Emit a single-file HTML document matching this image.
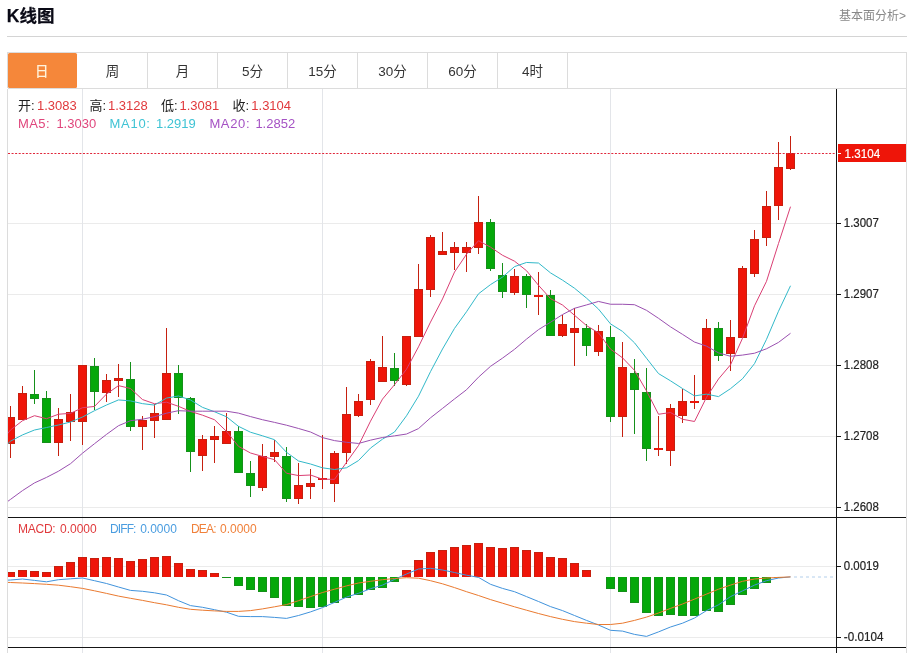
<!DOCTYPE html>
<html lang="zh"><head><meta charset="utf-8"><title>K线图</title>
<style>
html,body{margin:0;padding:0;background:#fff;}
body{width:913px;height:653px;position:relative;overflow:hidden;font-family:"Liberation Sans","Noto Sans CJK SC",sans-serif;color:#222;}
.t{position:absolute;white-space:nowrap;line-height:1;}
#title{left:6.8px;top:8px;font-size:17.5px;font-weight:bold;color:#0a0a16;-webkit-text-stroke:0.25px #0a0a16;}
#more{right:7px;top:10px;font-size:12px;color:#888;}
#hr{position:absolute;left:7px;top:36px;width:900px;height:1px;background:#d4d4d4;}
#tabs{position:absolute;left:7px;top:52px;width:900px;height:36px;border-top:1px solid #dcdcdc;border-left:1px solid #dcdcdc;border-right:1px solid #dcdcdc;box-sizing:border-box;}
.tab{position:absolute;top:0;height:36px;width:70px;box-sizing:border-box;border-right:1px solid #dcdcdc;text-align:center;font-size:13.5px;line-height:37px;color:#333;}
.tab.on{background:#f5873a;color:#fff3dc;border-right:none;border-radius:1.5px;top:0px;height:35px;width:69px;font-weight:500;text-indent:-1.5px;}
.lg{font-size:13px;}
.r{color:#e0393c}
</style></head><body>
<div id="title" class="t">K线图</div>
<div id="more" class="t">基本面分析&gt;</div>
<div id="hr"></div>
<div id="tabs">
<div class="tab on" style="left:0">日</div>
<div class="tab" style="left:70px">周</div>
<div class="tab" style="left:140px">月</div>
<div class="tab" style="left:210px">5分</div>
<div class="tab" style="left:280px">15分</div>
<div class="tab" style="left:350px">30分</div>
<div class="tab" style="left:420px">60分</div>
<div class="tab" style="left:490px">4时</div>
</div>
<svg width="913" height="653" viewBox="0 0 913 653" style="position:absolute;left:0;top:0">
<defs><clipPath id="cp"><rect x="8" y="89" width="829" height="560"/></clipPath></defs>
<g fill="none" stroke="#dcdcdc" stroke-width="1" shape-rendering="crispEdges">
<line x1="7.5" y1="88.5" x2="906.5" y2="88.5"/>
<line x1="7.5" y1="88.5" x2="7.5" y2="653"/>
<line x1="906.5" y1="88.5" x2="906.5" y2="653"/>
</g>
<g fill="none" stroke="#ebebeb" stroke-width="1" shape-rendering="crispEdges">
<line x1="8" y1="223.5" x2="836" y2="223.5"/>
<line x1="8" y1="294.5" x2="836" y2="294.5"/>
<line x1="8" y1="365.5" x2="836" y2="365.5"/>
<line x1="8" y1="436.5" x2="836" y2="436.5"/>
<line x1="8" y1="507.5" x2="836" y2="507.5"/>
<line x1="8" y1="566.5" x2="836" y2="566.5"/>
<line x1="8" y1="637.5" x2="836" y2="637.5"/>
<line x1="82.5" y1="89" x2="82.5" y2="653" stroke="#e3e5e9"/>
<line x1="322.5" y1="89" x2="322.5" y2="653" stroke="#e3e5e9"/>
<line x1="610.5" y1="89" x2="610.5" y2="653" stroke="#e3e5e9"/>
</g>
<g clip-path="url(#cp)">
<g shape-rendering="crispEdges">
<rect x="10" y="406" width="1" height="52" fill="#c6200f"/>
<rect x="6" y="417" width="9" height="27" fill="#c6200f"/>
<rect x="7" y="418" width="7" height="25" fill="#ef1509"/>
<rect x="22" y="386" width="1" height="34" fill="#c6200f"/>
<rect x="18" y="393" width="9" height="27" fill="#c6200f"/>
<rect x="19" y="394" width="7" height="25" fill="#ef1509"/>
<rect x="34" y="370" width="1" height="34" fill="#15901a"/>
<rect x="30" y="394" width="9" height="5" fill="#15901a"/>
<rect x="31" y="395" width="7" height="3" fill="#05a80a"/>
<rect x="46" y="391" width="1" height="52" fill="#15901a"/>
<rect x="42" y="398" width="9" height="45" fill="#15901a"/>
<rect x="43" y="399" width="7" height="43" fill="#05a80a"/>
<rect x="58" y="408" width="1" height="48" fill="#c6200f"/>
<rect x="54" y="419" width="9" height="24" fill="#c6200f"/>
<rect x="55" y="420" width="7" height="22" fill="#ef1509"/>
<rect x="70" y="394" width="1" height="47" fill="#c6200f"/>
<rect x="66" y="412" width="9" height="10" fill="#c6200f"/>
<rect x="67" y="413" width="7" height="8" fill="#ef1509"/>
<rect x="82" y="365" width="1" height="80" fill="#c6200f"/>
<rect x="78" y="365" width="9" height="57" fill="#c6200f"/>
<rect x="79" y="366" width="7" height="55" fill="#ef1509"/>
<rect x="94" y="358" width="1" height="52" fill="#15901a"/>
<rect x="90" y="366" width="9" height="26" fill="#15901a"/>
<rect x="91" y="367" width="7" height="24" fill="#05a80a"/>
<rect x="106" y="374" width="1" height="28" fill="#c6200f"/>
<rect x="102" y="380" width="9" height="13" fill="#c6200f"/>
<rect x="103" y="381" width="7" height="11" fill="#ef1509"/>
<rect x="118" y="364" width="1" height="33" fill="#c6200f"/>
<rect x="114" y="378" width="9" height="3" fill="#c6200f"/>
<rect x="115" y="379" width="7" height="1" fill="#ef1509"/>
<rect x="130" y="362" width="1" height="69" fill="#15901a"/>
<rect x="126" y="379" width="9" height="48" fill="#15901a"/>
<rect x="127" y="380" width="7" height="46" fill="#05a80a"/>
<rect x="142" y="416" width="1" height="34" fill="#c6200f"/>
<rect x="138" y="420" width="9" height="7" fill="#c6200f"/>
<rect x="139" y="421" width="7" height="5" fill="#ef1509"/>
<rect x="154" y="404" width="1" height="34" fill="#c6200f"/>
<rect x="150" y="413" width="9" height="8" fill="#c6200f"/>
<rect x="151" y="414" width="7" height="6" fill="#ef1509"/>
<rect x="166" y="328" width="1" height="92" fill="#c6200f"/>
<rect x="162" y="373" width="9" height="47" fill="#c6200f"/>
<rect x="163" y="374" width="7" height="45" fill="#ef1509"/>
<rect x="178" y="365" width="1" height="49" fill="#15901a"/>
<rect x="174" y="373" width="9" height="25" fill="#15901a"/>
<rect x="175" y="374" width="7" height="23" fill="#05a80a"/>
<rect x="190" y="397" width="1" height="75" fill="#15901a"/>
<rect x="186" y="398" width="9" height="54" fill="#15901a"/>
<rect x="187" y="399" width="7" height="52" fill="#05a80a"/>
<rect x="202" y="435" width="1" height="36" fill="#c6200f"/>
<rect x="198" y="439" width="9" height="17" fill="#c6200f"/>
<rect x="199" y="440" width="7" height="15" fill="#ef1509"/>
<rect x="214" y="426" width="1" height="37" fill="#c6200f"/>
<rect x="210" y="436" width="9" height="4" fill="#c6200f"/>
<rect x="211" y="437" width="7" height="2" fill="#ef1509"/>
<rect x="226" y="413" width="1" height="31" fill="#c6200f"/>
<rect x="222" y="431" width="9" height="13" fill="#c6200f"/>
<rect x="223" y="432" width="7" height="11" fill="#ef1509"/>
<rect x="238" y="426" width="1" height="47" fill="#15901a"/>
<rect x="234" y="431" width="9" height="42" fill="#15901a"/>
<rect x="235" y="432" width="7" height="40" fill="#05a80a"/>
<rect x="250" y="461" width="1" height="36" fill="#15901a"/>
<rect x="246" y="473" width="9" height="13" fill="#15901a"/>
<rect x="247" y="474" width="7" height="11" fill="#05a80a"/>
<rect x="262" y="444" width="1" height="47" fill="#c6200f"/>
<rect x="258" y="456" width="9" height="32" fill="#c6200f"/>
<rect x="259" y="457" width="7" height="30" fill="#ef1509"/>
<rect x="274" y="440" width="1" height="22" fill="#c6200f"/>
<rect x="270" y="452" width="9" height="5" fill="#c6200f"/>
<rect x="271" y="453" width="7" height="3" fill="#ef1509"/>
<rect x="286" y="447" width="1" height="55" fill="#15901a"/>
<rect x="282" y="456" width="9" height="43" fill="#15901a"/>
<rect x="283" y="457" width="7" height="41" fill="#05a80a"/>
<rect x="298" y="463" width="1" height="41" fill="#c6200f"/>
<rect x="294" y="485" width="9" height="14" fill="#c6200f"/>
<rect x="295" y="486" width="7" height="12" fill="#ef1509"/>
<rect x="310" y="469" width="1" height="30" fill="#c6200f"/>
<rect x="306" y="483" width="9" height="4" fill="#c6200f"/>
<rect x="307" y="484" width="7" height="2" fill="#ef1509"/>
<rect x="322" y="435" width="1" height="54" fill="#c6200f"/>
<rect x="318" y="478" width="9" height="2" fill="#c6200f"/>
<rect x="319" y="478" width="7" height="2" fill="#ef1509"/>
<rect x="334" y="451" width="1" height="51" fill="#c6200f"/>
<rect x="330" y="453" width="9" height="31" fill="#c6200f"/>
<rect x="331" y="454" width="7" height="29" fill="#ef1509"/>
<rect x="346" y="387" width="1" height="77" fill="#c6200f"/>
<rect x="342" y="414" width="9" height="39" fill="#c6200f"/>
<rect x="343" y="415" width="7" height="37" fill="#ef1509"/>
<rect x="358" y="394" width="1" height="23" fill="#c6200f"/>
<rect x="354" y="401" width="9" height="15" fill="#c6200f"/>
<rect x="355" y="402" width="7" height="13" fill="#ef1509"/>
<rect x="370" y="359" width="1" height="46" fill="#c6200f"/>
<rect x="366" y="361" width="9" height="39" fill="#c6200f"/>
<rect x="367" y="362" width="7" height="37" fill="#ef1509"/>
<rect x="382" y="336" width="1" height="46" fill="#c6200f"/>
<rect x="378" y="367" width="9" height="15" fill="#c6200f"/>
<rect x="379" y="368" width="7" height="13" fill="#ef1509"/>
<rect x="394" y="353" width="1" height="33" fill="#15901a"/>
<rect x="390" y="368" width="9" height="13" fill="#15901a"/>
<rect x="391" y="369" width="7" height="11" fill="#05a80a"/>
<rect x="406" y="336" width="1" height="50" fill="#c6200f"/>
<rect x="402" y="336" width="9" height="49" fill="#c6200f"/>
<rect x="403" y="337" width="7" height="47" fill="#ef1509"/>
<rect x="418" y="264" width="1" height="73" fill="#c6200f"/>
<rect x="414" y="289" width="9" height="48" fill="#c6200f"/>
<rect x="415" y="290" width="7" height="46" fill="#ef1509"/>
<rect x="430" y="235" width="1" height="62" fill="#c6200f"/>
<rect x="426" y="237" width="9" height="53" fill="#c6200f"/>
<rect x="427" y="238" width="7" height="51" fill="#ef1509"/>
<rect x="442" y="232" width="1" height="23" fill="#c6200f"/>
<rect x="438" y="251" width="9" height="4" fill="#c6200f"/>
<rect x="439" y="252" width="7" height="2" fill="#ef1509"/>
<rect x="454" y="242" width="1" height="28" fill="#c6200f"/>
<rect x="450" y="247" width="9" height="6" fill="#c6200f"/>
<rect x="451" y="248" width="7" height="4" fill="#ef1509"/>
<rect x="466" y="242" width="1" height="30" fill="#c6200f"/>
<rect x="462" y="247" width="9" height="6" fill="#c6200f"/>
<rect x="463" y="248" width="7" height="4" fill="#ef1509"/>
<rect x="478" y="196" width="1" height="58" fill="#c6200f"/>
<rect x="474" y="222" width="9" height="26" fill="#c6200f"/>
<rect x="475" y="223" width="7" height="24" fill="#ef1509"/>
<rect x="490" y="219" width="1" height="52" fill="#15901a"/>
<rect x="486" y="222" width="9" height="47" fill="#15901a"/>
<rect x="487" y="223" width="7" height="45" fill="#05a80a"/>
<rect x="502" y="263" width="1" height="35" fill="#15901a"/>
<rect x="498" y="275" width="9" height="17" fill="#15901a"/>
<rect x="499" y="276" width="7" height="15" fill="#05a80a"/>
<rect x="514" y="269" width="1" height="26" fill="#c6200f"/>
<rect x="510" y="276" width="9" height="17" fill="#c6200f"/>
<rect x="511" y="277" width="7" height="15" fill="#ef1509"/>
<rect x="526" y="274" width="1" height="34" fill="#15901a"/>
<rect x="522" y="276" width="9" height="19" fill="#15901a"/>
<rect x="523" y="277" width="7" height="17" fill="#05a80a"/>
<rect x="538" y="272" width="1" height="43" fill="#c6200f"/>
<rect x="534" y="295" width="9" height="2" fill="#c6200f"/>
<rect x="535" y="295" width="7" height="2" fill="#ef1509"/>
<rect x="550" y="290" width="1" height="46" fill="#15901a"/>
<rect x="546" y="295" width="9" height="41" fill="#15901a"/>
<rect x="547" y="296" width="7" height="39" fill="#05a80a"/>
<rect x="562" y="315" width="1" height="22" fill="#c6200f"/>
<rect x="558" y="324" width="9" height="12" fill="#c6200f"/>
<rect x="559" y="325" width="7" height="10" fill="#ef1509"/>
<rect x="574" y="308" width="1" height="58" fill="#c6200f"/>
<rect x="570" y="328" width="9" height="5" fill="#c6200f"/>
<rect x="571" y="329" width="7" height="3" fill="#ef1509"/>
<rect x="586" y="324" width="1" height="32" fill="#15901a"/>
<rect x="582" y="328" width="9" height="18" fill="#15901a"/>
<rect x="583" y="329" width="7" height="16" fill="#05a80a"/>
<rect x="598" y="325" width="1" height="31" fill="#c6200f"/>
<rect x="594" y="331" width="9" height="21" fill="#c6200f"/>
<rect x="595" y="332" width="7" height="19" fill="#ef1509"/>
<rect x="610" y="326" width="1" height="96" fill="#15901a"/>
<rect x="606" y="337" width="9" height="80" fill="#15901a"/>
<rect x="607" y="338" width="7" height="78" fill="#05a80a"/>
<rect x="622" y="342" width="1" height="95" fill="#c6200f"/>
<rect x="618" y="367" width="9" height="50" fill="#c6200f"/>
<rect x="619" y="368" width="7" height="48" fill="#ef1509"/>
<rect x="634" y="359" width="1" height="75" fill="#15901a"/>
<rect x="630" y="373" width="9" height="17" fill="#15901a"/>
<rect x="631" y="374" width="7" height="15" fill="#05a80a"/>
<rect x="646" y="368" width="1" height="93" fill="#15901a"/>
<rect x="642" y="392" width="9" height="57" fill="#15901a"/>
<rect x="643" y="393" width="7" height="55" fill="#05a80a"/>
<rect x="658" y="416" width="1" height="40" fill="#c6200f"/>
<rect x="654" y="448" width="9" height="2" fill="#c6200f"/>
<rect x="655" y="448" width="7" height="2" fill="#ef1509"/>
<rect x="670" y="404" width="1" height="62" fill="#c6200f"/>
<rect x="666" y="408" width="9" height="43" fill="#c6200f"/>
<rect x="667" y="409" width="7" height="41" fill="#ef1509"/>
<rect x="682" y="389" width="1" height="34" fill="#c6200f"/>
<rect x="678" y="401" width="9" height="15" fill="#c6200f"/>
<rect x="679" y="402" width="7" height="13" fill="#ef1509"/>
<rect x="694" y="375" width="1" height="34" fill="#c6200f"/>
<rect x="690" y="401" width="9" height="2" fill="#c6200f"/>
<rect x="691" y="401" width="7" height="2" fill="#ef1509"/>
<rect x="706" y="319" width="1" height="81" fill="#c6200f"/>
<rect x="702" y="328" width="9" height="72" fill="#c6200f"/>
<rect x="703" y="329" width="7" height="70" fill="#ef1509"/>
<rect x="718" y="322" width="1" height="39" fill="#15901a"/>
<rect x="714" y="328" width="9" height="28" fill="#15901a"/>
<rect x="715" y="329" width="7" height="26" fill="#05a80a"/>
<rect x="730" y="320" width="1" height="51" fill="#c6200f"/>
<rect x="726" y="337" width="9" height="17" fill="#c6200f"/>
<rect x="727" y="338" width="7" height="15" fill="#ef1509"/>
<rect x="742" y="266" width="1" height="72" fill="#c6200f"/>
<rect x="738" y="268" width="9" height="70" fill="#c6200f"/>
<rect x="739" y="269" width="7" height="68" fill="#ef1509"/>
<rect x="754" y="230" width="1" height="47" fill="#c6200f"/>
<rect x="750" y="239" width="9" height="35" fill="#c6200f"/>
<rect x="751" y="240" width="7" height="33" fill="#ef1509"/>
<rect x="766" y="191" width="1" height="55" fill="#c6200f"/>
<rect x="762" y="206" width="9" height="32" fill="#c6200f"/>
<rect x="763" y="207" width="7" height="30" fill="#ef1509"/>
<rect x="778" y="142" width="1" height="78" fill="#c6200f"/>
<rect x="774" y="167" width="9" height="39" fill="#c6200f"/>
<rect x="775" y="168" width="7" height="37" fill="#ef1509"/>
<rect x="790" y="136" width="1" height="34" fill="#c6200f"/>
<rect x="786" y="153" width="9" height="16" fill="#c6200f"/>
<rect x="787" y="154" width="7" height="14" fill="#ef1509"/>
</g>
<polyline fill="none" stroke="#da3f74" stroke-width="1.0" stroke-linejoin="round" points="-1.5,445 10.5,430 22.5,420.7 34.5,415.7 46.5,418.7 58.5,414.22 70.5,413.34 82.5,407.72 94.5,406.44 106.5,394.02 118.5,385.64 130.5,388.5 142.5,399.56 154.5,403.74 166.5,402.16 178.5,406.34 190.5,411.44 202.5,415.18 214.5,419.74 226.5,431.38 238.5,446.36 250.5,453 262.5,456.44 274.5,459.66 286.5,473.22 298.5,475.58 310.5,475 322.5,479.22 334.5,479.34 346.5,462.34 358.5,445.56 370.5,421.18 382.5,399.1 394.5,384.72 406.5,369.24 418.5,346.82 430.5,322.1 442.5,298.94 454.5,272.08 466.5,254.24 478.5,240.76 490.5,247.12 502.5,255.26 514.5,261.16 526.5,270.68 538.5,285.3 550.5,298.62 562.5,305 574.5,315.28 586.5,325.56 598.5,332.88 610.5,349.12 622.5,357.82 634.5,370.32 646.5,390.88 658.5,414.26 670.5,412.52 682.5,419.28 694.5,421.48 706.5,397.34 718.5,378.98 730.5,364.84 742.5,338.24 754.5,305.8 766.5,281.3 778.5,243.48 790.5,206.68"/>
<polyline fill="none" stroke="#32b9c9" stroke-width="1.0" stroke-linejoin="round" points="-1.5,453 10.5,441.2 22.5,434.9 34.5,430 46.5,427.5 58.5,425 70.5,422 82.5,417 94.5,410.7 106.5,405 118.5,399.93 130.5,400.92 142.5,403.64 154.5,405.09 166.5,398.09 178.5,395.99 190.5,399.97 202.5,407.37 214.5,411.74 226.5,416.77 238.5,426.35 250.5,432.22 262.5,435.81 274.5,439.7 286.5,452.3 298.5,460.97 310.5,464 322.5,467.83 334.5,469.5 346.5,467.78 358.5,460.57 370.5,448.09 382.5,439.16 394.5,432.03 406.5,415.79 418.5,396.19 430.5,371.64 442.5,349.02 454.5,328.4 466.5,311.74 478.5,293.79 490.5,284.61 502.5,277.1 514.5,266.62 526.5,262.46 538.5,263.03 550.5,272.87 562.5,280.13 574.5,288.22 586.5,298.12 598.5,309.09 610.5,323.87 622.5,331.41 634.5,342.8 646.5,358.22 658.5,373.57 670.5,380.82 682.5,388.55 694.5,395.9 706.5,394.11 718.5,396.62 730.5,388.68 742.5,378.76 754.5,363.64 766.5,339.32 778.5,311.23 790.5,285.76"/>
<polyline fill="none" stroke="#9a50b0" stroke-width="1.0" stroke-linejoin="round" points="-1.5,508 10.5,499.4 22.5,490.6 34.5,482.9 46.5,477.4 58.5,471.2 70.5,463.7 82.5,453.2 94.5,443.7 106.5,434.4 118.5,425.7 130.5,420.7 142.5,419.2 154.5,416.7 166.5,413.2 178.5,410.7 190.5,411.2 202.5,411.2 214.5,411.2 226.5,411.2 238.5,413.14 250.5,416.57 262.5,419.73 274.5,422.39 286.5,425.19 298.5,428.48 310.5,431.99 322.5,437.6 334.5,440.62 346.5,442.27 358.5,443.46 370.5,440.16 382.5,437.49 394.5,435.86 406.5,434.04 418.5,428.58 430.5,417.82 442.5,408.43 454.5,398.95 466.5,389.76 478.5,377.18 490.5,366.35 502.5,358.13 514.5,349.32 526.5,339.12 538.5,329.61 550.5,322.25 562.5,314.57 574.5,308.31 586.5,304.93 598.5,301.44 610.5,304.24 622.5,304.25 634.5,304.71 646.5,310.34 658.5,318.3 670.5,326.84 682.5,334.34 694.5,342.06 706.5,346.12 718.5,352.86 730.5,356.27 742.5,355.08 754.5,353.22 766.5,348.77 778.5,342.4 790.5,333.29"/>
<g shape-rendering="crispEdges">
<rect x="6" y="572" width="9" height="5" fill="#c6200f"/>
<rect x="7" y="573" width="7" height="4" fill="#ef1509"/>
<rect x="18" y="570" width="9" height="7" fill="#c6200f"/>
<rect x="19" y="571" width="7" height="6" fill="#ef1509"/>
<rect x="30" y="571" width="9" height="6" fill="#c6200f"/>
<rect x="31" y="572" width="7" height="5" fill="#ef1509"/>
<rect x="42" y="572" width="9" height="5" fill="#c6200f"/>
<rect x="43" y="573" width="7" height="4" fill="#ef1509"/>
<rect x="54" y="566" width="9" height="11" fill="#c6200f"/>
<rect x="55" y="567" width="7" height="10" fill="#ef1509"/>
<rect x="66" y="562" width="9" height="15" fill="#c6200f"/>
<rect x="67" y="563" width="7" height="14" fill="#ef1509"/>
<rect x="78" y="557" width="9" height="20" fill="#c6200f"/>
<rect x="79" y="558" width="7" height="19" fill="#ef1509"/>
<rect x="90" y="558" width="9" height="19" fill="#c6200f"/>
<rect x="91" y="559" width="7" height="18" fill="#ef1509"/>
<rect x="102" y="557" width="9" height="20" fill="#c6200f"/>
<rect x="103" y="558" width="7" height="19" fill="#ef1509"/>
<rect x="114" y="558" width="9" height="19" fill="#c6200f"/>
<rect x="115" y="559" width="7" height="18" fill="#ef1509"/>
<rect x="126" y="561" width="9" height="16" fill="#c6200f"/>
<rect x="127" y="562" width="7" height="15" fill="#ef1509"/>
<rect x="138" y="559" width="9" height="18" fill="#c6200f"/>
<rect x="139" y="560" width="7" height="17" fill="#ef1509"/>
<rect x="150" y="557" width="9" height="20" fill="#c6200f"/>
<rect x="151" y="558" width="7" height="19" fill="#ef1509"/>
<rect x="162" y="556" width="9" height="21" fill="#c6200f"/>
<rect x="163" y="557" width="7" height="20" fill="#ef1509"/>
<rect x="174" y="563" width="9" height="14" fill="#c6200f"/>
<rect x="175" y="564" width="7" height="13" fill="#ef1509"/>
<rect x="186" y="569" width="9" height="8" fill="#c6200f"/>
<rect x="187" y="570" width="7" height="7" fill="#ef1509"/>
<rect x="198" y="570" width="9" height="7" fill="#c6200f"/>
<rect x="199" y="571" width="7" height="6" fill="#ef1509"/>
<rect x="210" y="573" width="9" height="4" fill="#c6200f"/>
<rect x="211" y="574" width="7" height="3" fill="#ef1509"/>
<rect x="222" y="577" width="9" height="1" fill="#15901a"/>
<rect x="234" y="577" width="9" height="9" fill="#15901a"/>
<rect x="235" y="577" width="7" height="8" fill="#05a80a"/>
<rect x="246" y="577" width="9" height="13" fill="#15901a"/>
<rect x="247" y="577" width="7" height="12" fill="#05a80a"/>
<rect x="258" y="577" width="9" height="15" fill="#15901a"/>
<rect x="259" y="577" width="7" height="14" fill="#05a80a"/>
<rect x="270" y="577" width="9" height="21" fill="#15901a"/>
<rect x="271" y="577" width="7" height="20" fill="#05a80a"/>
<rect x="282" y="577" width="9" height="29" fill="#15901a"/>
<rect x="283" y="577" width="7" height="28" fill="#05a80a"/>
<rect x="294" y="577" width="9" height="30" fill="#15901a"/>
<rect x="295" y="577" width="7" height="29" fill="#05a80a"/>
<rect x="306" y="577" width="9" height="31" fill="#15901a"/>
<rect x="307" y="577" width="7" height="30" fill="#05a80a"/>
<rect x="318" y="577" width="9" height="30" fill="#15901a"/>
<rect x="319" y="577" width="7" height="29" fill="#05a80a"/>
<rect x="330" y="577" width="9" height="26" fill="#15901a"/>
<rect x="331" y="577" width="7" height="25" fill="#05a80a"/>
<rect x="342" y="577" width="9" height="21" fill="#15901a"/>
<rect x="343" y="577" width="7" height="20" fill="#05a80a"/>
<rect x="354" y="577" width="9" height="18" fill="#15901a"/>
<rect x="355" y="577" width="7" height="17" fill="#05a80a"/>
<rect x="366" y="577" width="9" height="13" fill="#15901a"/>
<rect x="367" y="577" width="7" height="12" fill="#05a80a"/>
<rect x="378" y="577" width="9" height="11" fill="#15901a"/>
<rect x="379" y="577" width="7" height="10" fill="#05a80a"/>
<rect x="390" y="577" width="9" height="5" fill="#15901a"/>
<rect x="391" y="577" width="7" height="4" fill="#05a80a"/>
<rect x="402" y="570" width="9" height="7" fill="#c6200f"/>
<rect x="403" y="571" width="7" height="6" fill="#ef1509"/>
<rect x="414" y="560" width="9" height="17" fill="#c6200f"/>
<rect x="415" y="561" width="7" height="16" fill="#ef1509"/>
<rect x="426" y="552" width="9" height="25" fill="#c6200f"/>
<rect x="427" y="553" width="7" height="24" fill="#ef1509"/>
<rect x="438" y="550" width="9" height="27" fill="#c6200f"/>
<rect x="439" y="551" width="7" height="26" fill="#ef1509"/>
<rect x="450" y="547" width="9" height="30" fill="#c6200f"/>
<rect x="451" y="548" width="7" height="29" fill="#ef1509"/>
<rect x="462" y="545" width="9" height="32" fill="#c6200f"/>
<rect x="463" y="546" width="7" height="31" fill="#ef1509"/>
<rect x="474" y="543" width="9" height="34" fill="#c6200f"/>
<rect x="475" y="544" width="7" height="33" fill="#ef1509"/>
<rect x="486" y="547" width="9" height="30" fill="#c6200f"/>
<rect x="487" y="548" width="7" height="29" fill="#ef1509"/>
<rect x="498" y="548" width="9" height="29" fill="#c6200f"/>
<rect x="499" y="549" width="7" height="28" fill="#ef1509"/>
<rect x="510" y="547" width="9" height="30" fill="#c6200f"/>
<rect x="511" y="548" width="7" height="29" fill="#ef1509"/>
<rect x="522" y="550" width="9" height="27" fill="#c6200f"/>
<rect x="523" y="551" width="7" height="26" fill="#ef1509"/>
<rect x="534" y="552" width="9" height="25" fill="#c6200f"/>
<rect x="535" y="553" width="7" height="24" fill="#ef1509"/>
<rect x="546" y="557" width="9" height="20" fill="#c6200f"/>
<rect x="547" y="558" width="7" height="19" fill="#ef1509"/>
<rect x="558" y="558" width="9" height="19" fill="#c6200f"/>
<rect x="559" y="559" width="7" height="18" fill="#ef1509"/>
<rect x="570" y="563" width="9" height="14" fill="#c6200f"/>
<rect x="571" y="564" width="7" height="13" fill="#ef1509"/>
<rect x="582" y="570" width="9" height="7" fill="#c6200f"/>
<rect x="583" y="571" width="7" height="6" fill="#ef1509"/>
<rect x="606" y="577" width="9" height="12" fill="#15901a"/>
<rect x="607" y="577" width="7" height="11" fill="#05a80a"/>
<rect x="618" y="577" width="9" height="15" fill="#15901a"/>
<rect x="619" y="577" width="7" height="14" fill="#05a80a"/>
<rect x="630" y="577" width="9" height="26" fill="#15901a"/>
<rect x="631" y="577" width="7" height="25" fill="#05a80a"/>
<rect x="642" y="577" width="9" height="36" fill="#15901a"/>
<rect x="643" y="577" width="7" height="35" fill="#05a80a"/>
<rect x="654" y="577" width="9" height="39" fill="#15901a"/>
<rect x="655" y="577" width="7" height="38" fill="#05a80a"/>
<rect x="666" y="577" width="9" height="38" fill="#15901a"/>
<rect x="667" y="577" width="7" height="37" fill="#05a80a"/>
<rect x="678" y="577" width="9" height="39" fill="#15901a"/>
<rect x="679" y="577" width="7" height="38" fill="#05a80a"/>
<rect x="690" y="577" width="9" height="39" fill="#15901a"/>
<rect x="691" y="577" width="7" height="38" fill="#05a80a"/>
<rect x="702" y="577" width="9" height="34" fill="#15901a"/>
<rect x="703" y="577" width="7" height="33" fill="#05a80a"/>
<rect x="714" y="577" width="9" height="35" fill="#15901a"/>
<rect x="715" y="577" width="7" height="34" fill="#05a80a"/>
<rect x="726" y="577" width="9" height="28" fill="#15901a"/>
<rect x="727" y="577" width="7" height="27" fill="#05a80a"/>
<rect x="738" y="577" width="9" height="18" fill="#15901a"/>
<rect x="739" y="577" width="7" height="17" fill="#05a80a"/>
<rect x="750" y="577" width="9" height="12" fill="#15901a"/>
<rect x="751" y="577" width="7" height="11" fill="#05a80a"/>
<rect x="762" y="577" width="9" height="6" fill="#15901a"/>
<rect x="763" y="577" width="7" height="5" fill="#05a80a"/>
<rect x="774" y="577" width="9" height="1" fill="#15901a"/>
</g>
<polyline fill="none" stroke="#4193dc" stroke-width="1.0" stroke-linejoin="round" points="-1.5,580.6 10.5,580 22.5,579 34.5,580.4 46.5,581.8 58.5,579.7 70.5,578.8 82.5,578 94.5,580.7 106.5,583.5 118.5,587 130.5,590.4 142.5,591.3 154.5,592.8 166.5,595 178.5,600.7 190.5,605.6 202.5,607.3 214.5,609.7 226.5,612.2 238.5,616.3 250.5,616.6 262.5,616.6 274.5,617.4 286.5,618.4 298.5,615.5 310.5,611.9 322.5,607.6 334.5,602.4 346.5,597.1 358.5,593.3 370.5,588.7 382.5,585.1 394.5,579.4 406.5,574 418.5,569 430.5,568.3 442.5,570 454.5,572.5 466.5,575.2 478.5,577.4 490.5,584.3 502.5,588.4 514.5,591.7 526.5,596.6 538.5,601.5 550.5,606.6 562.5,610.6 574.5,615.5 586.5,620.4 598.5,625 610.5,630.3 622.5,631.1 634.5,634.4 646.5,636.4 658.5,631.9 670.5,627 682.5,623.2 694.5,618 706.5,610.6 718.5,604.8 730.5,596.6 742.5,590.9 754.5,585.1 766.5,580.7 778.5,578 790.5,576.9"/>
<polyline fill="none" stroke="#ea7a30" stroke-width="1.0" stroke-linejoin="round" points="-1.5,582 10.5,582.5 22.5,583 34.5,583.6 46.5,584.3 58.5,585.2 70.5,586.7 82.5,588.4 94.5,590.8 106.5,593.4 118.5,596.1 130.5,598.3 142.5,600.4 154.5,602.7 166.5,604.8 178.5,607.3 190.5,609.3 202.5,610.2 214.5,610.9 226.5,611.4 238.5,611.4 250.5,610.6 262.5,608.9 274.5,606.8 286.5,604.6 298.5,600.7 310.5,596.6 322.5,592.5 334.5,589.2 346.5,585.9 358.5,583 370.5,581.3 382.5,579.7 394.5,578.5 406.5,577.7 418.5,578.2 430.5,580.7 442.5,583.8 454.5,587.6 466.5,591.7 478.5,595.5 490.5,599.6 502.5,603.2 514.5,606.8 526.5,610.2 538.5,613.5 550.5,616.6 562.5,619.3 574.5,621.6 586.5,623.2 598.5,624.5 610.5,624.5 622.5,623.2 634.5,620.4 646.5,617.1 658.5,613 670.5,608.4 682.5,604 694.5,599.1 706.5,594.1 718.5,589.2 730.5,585.1 742.5,581.3 754.5,579 766.5,578 778.5,577.4 790.5,576.9"/>
</g>
<line x1="8" y1="153.5" x2="836" y2="153.5" stroke="#e0263a" stroke-width="1" stroke-dasharray="2,1.57"/>
<line x1="794" y1="577" x2="833" y2="577" stroke="#b4d0ec" stroke-width="1.2" stroke-dasharray="3,3"/>
<g stroke="#151515" stroke-width="1" shape-rendering="crispEdges">
<line x1="836.5" y1="89" x2="836.5" y2="653"/>
<line x1="8" y1="517.5" x2="906" y2="517.5"/>
<line x1="8" y1="647.5" x2="906" y2="647.5"/>
<line x1="837" y1="223.5" x2="841" y2="223.5"/>
<line x1="837" y1="294.5" x2="841" y2="294.5"/>
<line x1="837" y1="365.5" x2="841" y2="365.5"/>
<line x1="837" y1="436.5" x2="841" y2="436.5"/>
<line x1="837" y1="507.5" x2="841" y2="507.5"/>
<line x1="837" y1="566.5" x2="841" y2="566.5"/>
<line x1="837" y1="637.5" x2="841" y2="637.5"/>
</g>
<rect x="838" y="144" width="68" height="18" fill="#ee1509" shape-rendering="crispEdges"/>
<line x1="837" y1="153.5" x2="841" y2="153.5" stroke="#fff" shape-rendering="crispEdges"/>
<g font-family="'Liberation Sans', sans-serif" font-size="12.5" fill="#222" stroke="#222" stroke-width="0.2">
<text x="844.6" y="158" fill="#fff" stroke="#fff" textLength="35.5" lengthAdjust="spacingAndGlyphs">1.3104</text>
<text x="843.8" y="227.3" textLength="35" lengthAdjust="spacingAndGlyphs">1.3007</text>
<text x="843.8" y="298.3" textLength="35" lengthAdjust="spacingAndGlyphs">1.2907</text>
<text x="843.8" y="369.3" textLength="35" lengthAdjust="spacingAndGlyphs">1.2808</text>
<text x="843.8" y="440.3" textLength="35" lengthAdjust="spacingAndGlyphs">1.2708</text>
<text x="843.8" y="511.3" textLength="35" lengthAdjust="spacingAndGlyphs">1.2608</text>
<text x="843.8" y="570.3" textLength="35" lengthAdjust="spacingAndGlyphs">0.0019</text>
<text x="843.8" y="641.3" textLength="39.6" lengthAdjust="spacingAndGlyphs">-0.0104</text>
</g>
</svg>
<div class="t lg" style="left:18px;top:98.5px">开:</div><div class="t lg r" style="left:37px;top:98.5px">1.3083</div>
<div class="t lg" style="left:89.5px;top:98.5px">高:</div><div class="t lg r" style="left:108px;top:98.5px">1.3128</div>
<div class="t lg" style="left:161px;top:98.5px">低:</div><div class="t lg r" style="left:179.5px;top:98.5px">1.3081</div>
<div class="t lg" style="left:232.5px;top:98.5px">收:</div><div class="t lg r" style="left:251.3px;top:98.5px">1.3104</div>
<div class="t lg" style="left:18px;top:116.5px;color:#e0467c;letter-spacing:0.4px">MA5:</div><div class="t lg" style="left:56.4px;top:116.5px;color:#e0467c">1.3030</div>
<div class="t lg" style="left:109.6px;top:116.5px;color:#3fc3d4;letter-spacing:0.7px">MA10:</div><div class="t lg" style="left:156px;top:116.5px;color:#3fc3d4">1.2919</div>
<div class="t lg" style="left:209.4px;top:116.5px;color:#a552c4;letter-spacing:0.65px">MA20:</div><div class="t lg" style="left:255.4px;top:116.5px;color:#a552c4">1.2852</div>
<div class="t" style="left:18px;top:523px;font-size:12px;color:#e0393c;letter-spacing:-0.25px">MACD:</div><div class="t" style="left:60px;top:523px;font-size:12px;color:#e0393c">0.0000</div>
<div class="t" style="left:110px;top:523px;font-size:12px;color:#4a9de0;letter-spacing:-0.9px">DIFF:</div><div class="t" style="left:140.2px;top:523px;font-size:12px;color:#4a9de0">0.0000</div>
<div class="t" style="left:191px;top:523px;font-size:12px;color:#f0803a;letter-spacing:-0.8px">DEA:</div><div class="t" style="left:220px;top:523px;font-size:12px;color:#f0803a">0.0000</div>
</body></html>
